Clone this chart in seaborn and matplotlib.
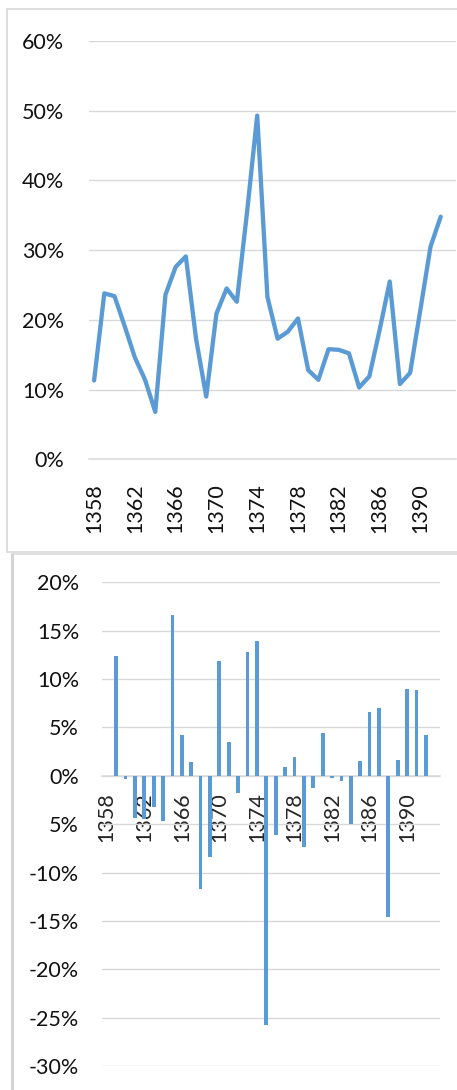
import numpy as np
import pandas as pd
import matplotlib
matplotlib.use("Agg")
import matplotlib.pyplot as plt
import seaborn as sns
from matplotlib.lines import Line2D

# categories on both x axes (last slot is empty in the source chart)
axis_years = list(range(1358, 1394))
label_years = [1358, 1362, 1366, 1370, 1374, 1378, 1382, 1386, 1390]

# top panel: share per year (%)
line_years = list(range(1358, 1393))
share = [11.3, 23.8, 23.4, 19.1, 14.6, 11.4, 6.8, 23.6, 27.6, 29.1,
         17.3, 9.0, 20.9, 24.5, 22.6, 35.4, 49.3, 23.3, 17.3, 18.3,
         20.2, 12.8, 11.4, 15.8, 15.7, 15.2, 10.3, 11.9, 18.5, 25.5,
         10.8, 12.4, 21.4, 30.5, 34.8]

# bottom panel: yearly change (%)
bar_years = list(range(1359, 1393))
change = [12.4, -0.3, -4.4, -4.5, -3.2, -4.7, 16.6, 4.2, 1.4, -11.7,
          -8.4, 11.9, 3.5, -1.8, 12.8, 13.9, -25.8, -6.1, 0.9, 1.9,
          -7.4, -1.3, 4.4, -0.25, -0.5, -5.0, 1.5, 6.6, 7.0, -14.6,
          1.6, 9.0, 8.9, 4.2]

top_ticks = [0, 10, 20, 30, 40, 50, 60]
top_labels = ["0%", "10%", "20%", "30%", "40%", "50%", "60%"]
bot_ticks = [-30, -25, -20, -15, -10, -5, 0, 5, 10, 15, 20]
bot_labels = ["-30%", "-25%", "-20%", "-15%", "-10%", "5%", "0%", "5%", "10%", "15%", "20%"]

BLUE = "#5B9BD5"
GRID = "#d9d9d9"
TXT = "#111111"

sns.set_style("white")
plt.rcParams["font.family"] = ["Lato", "DejaVu Sans"]
plt.rcParams["font.size"] = 15.5

W, H = 457, 1090
fig = plt.figure(figsize=(W / 100, H / 100), dpi=100)


def fx(px):
    return px / W


def fy(py):
    return 1 - py / H


# ---- top: line chart
ax1 = fig.add_axes([fx(89), fy(459.3), fx(367), (459.3 - 41) / H])
sns.lineplot(x=line_years, y=share, color=BLUE, linewidth=3.1, ax=ax1,
             solid_capstyle="round", solid_joinstyle="round", zorder=3)
ax1.set_xlim(axis_years[0] - 0.5, axis_years[-1] + 0.5)
ax1.set_ylim(0, 60)
ax1.set_yticks(top_ticks)
ax1.set_yticklabels(top_labels, color=TXT)
ax1.set_xticks(label_years)
ax1.set_xticklabels([str(y) for y in label_years], color=TXT)
ax1.set_xticks([y - 0.5 for y in axis_years] + [axis_years[-1] + 0.5], minor=True)
ax1.tick_params(axis="x", which="major", length=0, pad=17, labelrotation=90)
ax1.tick_params(axis="x", which="minor", length=5.8, width=1.1, color=GRID)
ax1.tick_params(axis="y", length=0, pad=18)
ax1.yaxis.grid(True, color=GRID, linewidth=1.0)
ax1.set_axisbelow(True)
for s in ["left", "right", "top"]:
    ax1.spines[s].set_visible(False)
ax1.spines["bottom"].set_color(GRID)
ax1.spines["bottom"].set_linewidth(1.1)
ax1.set_xlabel("")
ax1.set_ylabel("")

# ---- bottom: bar chart
df = pd.DataFrame({"year": [str(y) for y in bar_years], "change": change})
ax2 = fig.add_axes([fx(102), fy(1066), fx(338), (1066 - 582.3) / H])
sns.barplot(data=df, x="year", y="change", order=[str(y) for y in axis_years],
            color=BLUE, saturation=1, width=0.4, linewidth=0, errorbar=None,
            ax=ax2, zorder=3)
ax2.set_xlim(-0.5, len(axis_years) - 0.5)
ax2.set_ylim(-30, 20)
ax2.set_yticks(bot_ticks)
ax2.set_yticklabels(bot_labels, color=TXT)
major_pos = [axis_years.index(y) for y in label_years]
ax2.set_xticks(major_pos)
ax2.set_xticklabels([str(y) for y in label_years], color=TXT)
ax2.set_xticks(np.arange(-0.5, len(axis_years), 1.0), minor=True)
ax2.tick_params(axis="x", which="major", length=0, pad=12, labelrotation=90)
ax2.tick_params(axis="x", which="minor", length=7.2, width=1.1, color=GRID)
ax2.tick_params(axis="y", length=0, pad=16.5)
ax2.yaxis.grid(True, color=GRID, linewidth=1.0)
ax2.set_axisbelow(True)
for s in ["left", "right", "top"]:
    ax2.spines[s].set_visible(False)
ax2.spines["bottom"].set_position(("data", 0))
ax2.spines["bottom"].set_color(GRID)
ax2.spines["bottom"].set_linewidth(1.1)
ax2.set_xlabel("")
ax2.set_ylabel("")

# ---- chart-area borders (cropped Excel boxes)
tf = fig.transFigure
fig.add_artist(Line2D([fx(7), fx(7)], [fy(9), fy(551.7)], transform=tf, color=GRID, lw=1.2))
fig.add_artist(Line2D([fx(7), 1], [fy(9), fy(9)], transform=tf, color=GRID, lw=1.2))
fig.add_artist(Line2D([fx(7), 1], [fy(551.7), fy(551.7)], transform=tf, color=GRID, lw=1.2))
fig.add_artist(Line2D([fx(12), fx(12)], [fy(553.5), 0], transform=tf, color="#d4d4d4", lw=2.2))
fig.add_artist(Line2D([fx(12), 1], [fy(553.8), fy(553.8)], transform=tf, color=GRID, lw=1.2))

fig.savefig("out.png", dpi=100)
